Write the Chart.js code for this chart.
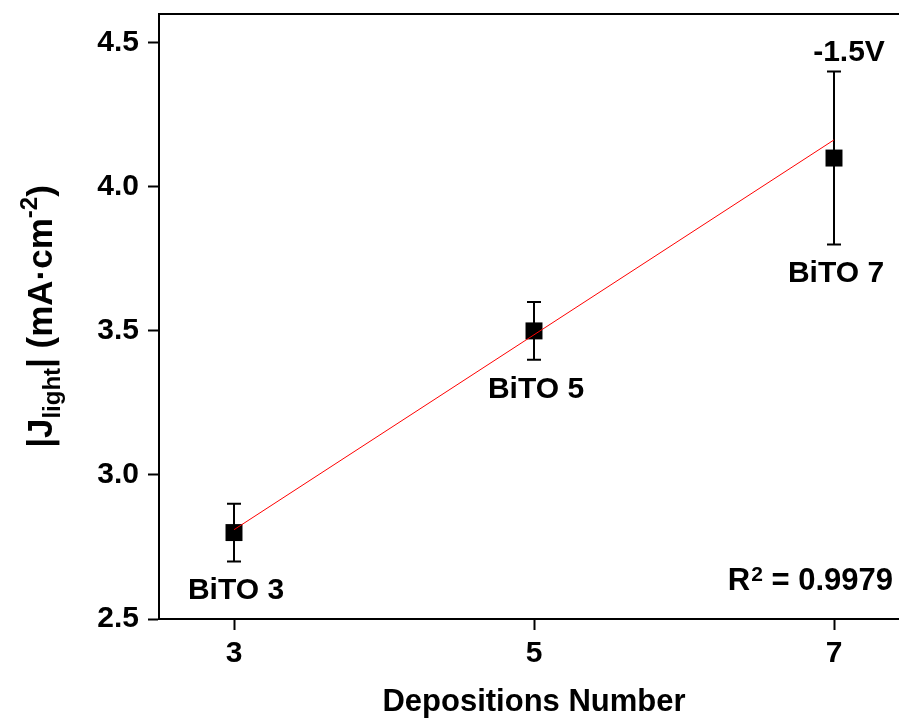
<!DOCTYPE html>
<html>
<head>
<meta charset="utf-8">
<script src="https://cdn.jsdelivr.net/npm/chart.js@4.4.1/dist/chart.umd.min.js"></script>
<style>
  html, body { margin: 0; padding: 0; background: #fff; overflow: hidden; }
  canvas { display: block; }
</style>
</head>
<body>
<canvas id="c" width="921" height="725"></canvas>
<script>
// ---- data ----
const depositions = [3, 5, 7];
const jLight = [2.8, 3.5, 4.1];
const jError = [0.1, 0.1, 0.3];
const sampleLabels = ['BiTO 3', 'BiTO 5', 'BiTO 7'];
const fitX = [3, 7];
const fitY = [2.81, 4.163];
const xTicks = [3, 5, 7];
const yTicks = [2.5, 3.0, 3.5, 4.0, 4.5];
const biasLabel = '-1.5V';
const r2Label = '0.9979';

const FONT = '"Liberation Sans", Arial, sans-serif';

const errorBarPlugin = {
  id: 'errorBars',
  beforeDatasetsDraw(chart) {
    const ctx = chart.ctx, xs = chart.scales.x, ys = chart.scales.y;
    ctx.save();
    ctx.strokeStyle = '#000';
    ctx.lineWidth = 2;
    depositions.forEach((d, i) => {
      const px = xs.getPixelForValue(d);
      const top = ys.getPixelForValue(jLight[i] + jError[i]);
      const bot = ys.getPixelForValue(jLight[i] - jError[i]);
      ctx.beginPath();
      ctx.moveTo(px, top); ctx.lineTo(px, bot);
      ctx.moveTo(px - 7, top); ctx.lineTo(px + 7, top);
      ctx.moveTo(px - 7, bot); ctx.lineTo(px + 7, bot);
      ctx.stroke();
    });
    ctx.restore();
  }
};

const decorPlugin = {
  id: 'decor',
  afterDraw(chart) {
    const ctx = chart.ctx, xs = chart.scales.x, ys = chart.scales.y;
    const ca = chart.chartArea;
    ctx.save();
    // top frame line
    ctx.strokeStyle = '#000';
    ctx.lineWidth = 2;
    ctx.beginPath();
    ctx.moveTo(ca.left - 1, ca.top);
    ctx.lineTo(ca.right + 10, ca.top);
    ctx.stroke();

    ctx.fillStyle = '#000';
    ctx.textBaseline = 'alphabetic';
    // sample labels under error bars
    ctx.font = 'bold 30px ' + FONT;
    ctx.textAlign = 'center';
    depositions.forEach((d, i) => {
      const px = xs.getPixelForValue(d);
      const bot = ys.getPixelForValue(jLight[i] - jError[i]);
      ctx.fillText(sampleLabels[i], px + 2, bot + 38);
    });
    // bias label above last error bar
    const li = depositions.length - 1;
    const lx = xs.getPixelForValue(depositions[li]);
    const ltop = ys.getPixelForValue(jLight[li] + jError[li]);
    ctx.fillText(biasLabel, lx + 15, ltop - 11);

    // R^2 label (right-aligned)
    const rRight = xs.getPixelForValue(7) + 59;
    const rBase = ca.bottom - 29;
    ctx.textAlign = 'left';
    ctx.font = 'bold 31px ' + FONT;
    const partR = 'R';
    const partEq = ' = ' + r2Label;
    const wR = ctx.measureText(partR).width;
    const wEq = ctx.measureText(partEq).width;
    ctx.font = 'bold 21px ' + FONT;
    const w2 = ctx.measureText('2').width;
    let x0 = rRight - (wR + w2 + wEq + 1);
    ctx.font = 'bold 31px ' + FONT;
    ctx.fillText(partR, x0, rBase);
    ctx.font = 'bold 21px ' + FONT;
    ctx.fillText('2', x0 + wR + 1, rBase - 9);
    ctx.font = 'bold 31px ' + FONT;
    ctx.fillText(partEq, x0 + wR + w2 + 1, rBase);

    // Y axis title with subscript / superscript
    const pieces = [
      { t: '|J', s: 35, dy: 0 },
      { t: 'light', s: 24, dy: 8 },
      { t: '| (mA\u00B7cm', s: 35, dy: 0 },
      { t: '-2', s: 24, dy: -15 },
      { t: ')', s: 35, dy: 0 }
    ];
    let total = 0;
    pieces.forEach(p => { ctx.font = 'bold ' + p.s + 'px ' + FONT; p.w = ctx.measureText(p.t).width; total += p.w; });
    ctx.translate(52, (ca.top + ca.bottom) / 2);
    ctx.rotate(-Math.PI / 2);
    let cx = -total / 2;
    pieces.forEach(p => {
      ctx.font = 'bold ' + p.s + 'px ' + FONT;
      ctx.fillText(p.t, cx, p.dy);
      cx += p.w;
    });
    ctx.restore();
  }
};

new Chart(document.getElementById('c'), {
  type: 'scatter',
  data: {
    datasets: [
      {
        type: 'line',
        data: fitX.map((x, i) => ({ x: x, y: fitY[i] })),
        borderColor: '#ff0000',
        borderWidth: 1,
        pointRadius: 0,
        fill: false,
        order: 0
      },
      {
        data: depositions.map((x, i) => ({ x: x, y: jLight[i] })),
        pointStyle: 'rect',
        pointRadius: 12,
        pointHoverRadius: 12,
        backgroundColor: '#000',
        borderWidth: 0,
        order: 1
      }
    ]
  },
  options: {
    responsive: false,
    animation: false,
    events: [],
    layout: { padding: { left: 0, top: 14, right: 6, bottom: 0 } },
    plugins: { legend: { display: false }, tooltip: { enabled: false } },
    scales: {
      x: {
        type: 'linear',
        min: 2.5,
        max: 7.5,
        afterBuildTicks: s => { s.ticks = xTicks.map(v => ({ value: v })); },
        afterFit: s => { s.height = 106; s.paddingLeft = 0; s.paddingRight = 0; },
        grid: { display: true, drawOnChartArea: false, drawTicks: true, tickLength: 11, tickColor: '#000', tickWidth: 2 },
        border: { display: true, color: '#000', width: 2 },
        ticks: { color: '#000', padding: 6, font: { family: FONT, size: 30, weight: 'bold' }, maxRotation: 0 },
        title: { display: true, text: 'Depositions Number', color: '#000', padding: { top: 0, bottom: 4 }, font: { family: FONT, size: 31, weight: 'bold' } }
      },
      y: {
        type: 'linear',
        min: 2.5,
        max: 4.6,
        afterBuildTicks: s => { s.ticks = yTicks.map(v => ({ value: v })); },
        afterFit: s => { s.width = 159; s.paddingTop = 0; s.paddingBottom = 0; },
        grid: { display: true, drawOnChartArea: false, drawTicks: true, tickLength: 11, tickColor: '#000', tickWidth: 2 },
        border: { display: true, color: '#000', width: 2 },
        ticks: { color: '#000', padding: 9, font: { family: FONT, size: 30, weight: 'bold' }, callback: v => Number(v).toFixed(1) }
      }
    }
  },
  plugins: [errorBarPlugin, decorPlugin]
});
</script>
</body>
</html>
